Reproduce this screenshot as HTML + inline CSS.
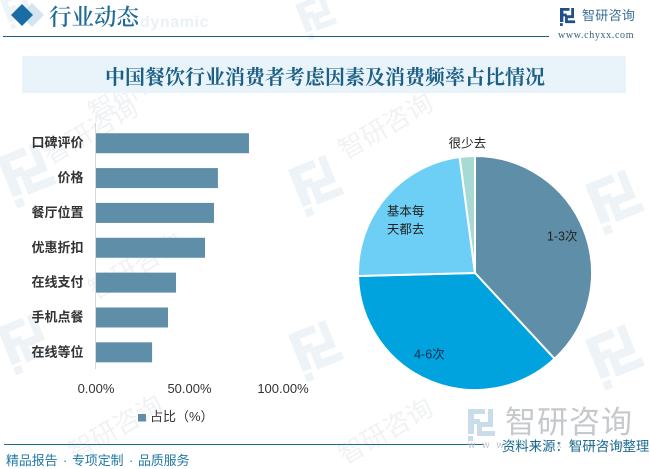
<!DOCTYPE html>
<html lang="zh-CN">
<head>
<meta charset="utf-8">
<title>中国餐饮行业消费者考虑因素及消费频率占比情况</title>
<style>
html,body{margin:0;padding:0;background:#fff;}
#page{position:relative;width:650px;height:469px;overflow:hidden;background:#fff;}
svg{position:absolute;left:0;top:0;}
text{font-family:"Liberation Sans","Noto Sans CJK SC",sans-serif;}
.serif{font-family:"Liberation Serif","Noto Serif CJK SC",serif;}
</style>
</head>
<body>
<div id="page">
<svg id="canvas" width="650" height="469" viewBox="0 0 650 469" xmlns="http://www.w3.org/2000/svg">
  <defs>
    <g id="logo-mark">
      <path d="M0 0H17V5H6V10H12V15H6V25H0Z"/>
      <path d="M20 0H25V13H20ZM9 13H25V18H14V22H27V27H9Z"/>
      <rect x="0" y="27" width="5" height="5"/>
    </g>
  </defs>

  <g id="watermarks">
    <g fill="#eef3f8">
      <use href="#logo-mark" transform="translate(-3,158) rotate(-22) scale(1.7)"/>
      <use href="#logo-mark" transform="translate(288,170) rotate(-22) scale(1.6)"/>
      <use href="#logo-mark" transform="translate(-3,328) rotate(-22) scale(1.6)"/>
      <use href="#logo-mark" transform="translate(288,335) rotate(-22) scale(1.6)"/>
      <use href="#logo-mark" transform="translate(585,185) rotate(-22) scale(1.7)"/>
      <use href="#logo-mark" transform="translate(585,340) rotate(-22) scale(1.7)"/>
      <use href="#logo-mark" transform="translate(295,5) rotate(-22) scale(1.2)"/>
      <use href="#logo-mark" transform="translate(0,0) rotate(-22) scale(1.0)"/>
    </g>
    <g fill="#f0f2f4" font-size="26">
      <text transform="translate(50,165) rotate(-30)">智研咨询</text>
      <text transform="translate(345,160) rotate(-30)">智研咨询</text>
      <text transform="translate(75,462) rotate(-30)">智研咨询</text>
      <text transform="translate(95,300) rotate(-30)">智研咨询</text>
      <text transform="translate(345,465) rotate(-30)">智研咨询</text>
      <text transform="translate(95,122) rotate(-30)">智研咨询</text>
    </g>
  </g>

  <g>
    <path d="M32 3L44 15L32 27L20 15Z" fill="#d5e5f0"/>
    <path d="M22 4L33 15L22 26L11 15Z" fill="#1a6ca5"/>
    <text x="140" y="27" font-size="16" font-weight="700" fill="#eaf1f6" letter-spacing="0.6">dynamic</text>
    <text class="serif" x="49" y="25" font-size="22.5" font-weight="600" fill="#1f6a96">行业动态</text>
    <rect x="3" y="36" width="546" height="1" fill="#1b5f86"/>
    <g fill="#1f4f8a" transform="translate(560,8) scale(0.56)">
      <use href="#logo-mark"/>
    </g>
    <text x="582" y="20" font-size="13" fill="#3a6f96" letter-spacing="0.3">智研咨询</text>
    <text class="serif" x="558" y="38" font-size="10" fill="#3a5f78" letter-spacing="0.65">www.chyxx.com</text>
  </g>

  <rect x="22" y="56" width="604" height="37" fill="#e8f3fa"/>
  <text class="serif" x="325" y="84" font-size="20" font-weight="700" fill="#1d5f85" text-anchor="middle">中国餐饮行业消费者考虑因素及消费频率占比情况</text>

  <g id="bar-chart"></g>
  <g id="pie-chart"></g>

  <g>
    <rect x="4" y="444" width="480" height="1" fill="#1b6a92"/>
    <g fill="#c9dcea" transform="translate(468,409) scale(1)">
      <use href="#logo-mark"/>
    </g>
    <text x="505" y="433" font-size="31" fill="#c6c9cc" letter-spacing="1">智研咨询</text>
    <text x="468" y="448" font-size="10" fill="#c0c4c8" letter-spacing="7">www.chyxx.com</text>
    <text y="465" font-size="12.9" fill="#1f78a8"><tspan x="6">精品报告</tspan><tspan x="63">·</tspan><tspan x="72">专项定制</tspan><tspan x="129">·</tspan><tspan x="138">品质服务</tspan></text>
    <text x="502" y="451" font-size="13.4" fill="#1b6a92">资料来源：智研咨询整理</text>
  </g>
</svg>
</div>
<script>
var barCategories = ['口碑评价', '价格', '餐厅位置', '优惠折扣', '在线支付', '手机点餐', '在线等位'];
var barValues = [81.8, 65.2, 63.1, 58.3, 42.8, 38.5, 30.0];
var xTickValues = [0, 50, 100];
var xTickLabels = ['0.00%', '50.00%', '100.00%'];
var pieCategories = ['1-3次', '4-6次', '基本每天都去', '很少去'];
var pieValues = [38.1, 36.5, 23.3, 2.1];
var pieColors = ['#5f8fa8', '#00a3de', '#6ecff6', '#a8dad5'];

var NS = 'http://www.w3.org/2000/svg';
var plot = { x0: 96, pxPerUnit: 1.87, top: 125.5, band: 34.85, barH: 20 };
var pie = { cx: 475, cy: 273, r: 117 };

function make(tag, parent, attrs) {
  var el = document.createElementNS(NS, tag);
  for (var k in attrs) { el.setAttribute(k, attrs[k]); }
  parent.appendChild(el);
  return el;
}
function xScale(v) { return plot.x0 + v * plot.pxPerUnit; }
function bandCenter(i) { return plot.top + plot.band * (i + 0.5) + 0.3; }

var barRoot = document.getElementById('bar-chart');
var axisLine = make('line', barRoot, { x1: 95.5, x2: 95.5, y1: 123, y2: 369, stroke: '#d9d9d9', 'stroke-width': 1 });



barCategories.forEach(function (name, i) {
  var yc = bandCenter(i);
  var rect = make('rect', barRoot, {
    x: xScale(0), y: yc - plot.barH / 2,
    width: xScale(barValues[i]) - xScale(0), height: plot.barH, fill: '#5f8fa8'
  });
  
  
  var label = make('text', barRoot, {
    x: 83.5, y: yc + 4, 'font-size': 13, 'font-weight': 700, fill: '#333', 'text-anchor': 'end'
  });
  label.textContent = name;
  
  
});

xTickValues.forEach(function (v, i) {
  var t = make('text', barRoot, { x: xScale(v), y: 393, 'font-size': 13, fill: '#333', 'text-anchor': 'middle' });
  t.textContent = xTickLabels[i];
  
  
});

var legendSwatch = make('rect', barRoot, { x: 138, y: 414, width: 8, height: 7.5, fill: '#5f8fa8' });


var legendText = make('text', barRoot, { x: 150, y: 421, 'font-size': 13, fill: '#333' });
legendText.textContent = '占比（%）';



var pieRoot = document.getElementById('pie-chart');
var pieTotal = pieValues.reduce(function (a, b) { return a + b; }, 0);
function polar(angle, radius) {
  return [pie.cx + radius * Math.sin(angle), pie.cy - radius * Math.cos(angle)];
}
var cumulative = 0;
pieValues.forEach(function (v, i) {
  var a0 = cumulative / pieTotal * 2 * Math.PI;
  cumulative += v;
  var a1 = cumulative / pieTotal * 2 * Math.PI;
  var p0 = polar(a0, pie.r);
  var p1 = polar(a1, pie.r);
  var large = a1 - a0 > Math.PI ? 1 : 0;
  var slice = make('path', pieRoot, {
    d: 'M' + pie.cx + ' ' + pie.cy + 'L' + p0[0] + ' ' + p0[1] + 'A' + pie.r + ' ' + pie.r + ' 0 ' + large + ' 1 ' + p1[0] + ' ' + p1[1] + 'Z',
    fill: pieColors[i], stroke: '#fff', 'stroke-width': 2, 'stroke-linejoin': 'round'
  });
  
  
});

function pieLabel(index, radius, nudgeX, nudgeY, lineLength) {
  var before = 0;
  for (var i = 0; i < index; i++) { before += pieValues[i]; }
  var mid = (before + pieValues[index] / 2) / pieTotal * 2 * Math.PI;
  var pos = polar(mid, radius);
  var name = pieCategories[index];
  var lines = [];
  for (var s = 0; s < name.length; s += lineLength) { lines.push(name.slice(s, s + lineLength)); }
  lines.forEach(function (line, n) {
    var t = make('text', pieRoot, {
      x: pos[0] + nudgeX, y: pos[1] + nudgeY + n * 18,
      'font-size': 12.5, fill: index === 1 ? '#0b2a4a' : '#222', 'text-anchor': 'middle'
    });
    t.textContent = line;
    
    
  });
}
pieLabel(0, 84, 9, -2, 6);
pieLabel(1, 84, -13, 8, 6);
pieLabel(2, 84, -5.5, -3, 3);
pieLabel(3, 130, 1, 4, 6);
</script>
</body>
</html>
